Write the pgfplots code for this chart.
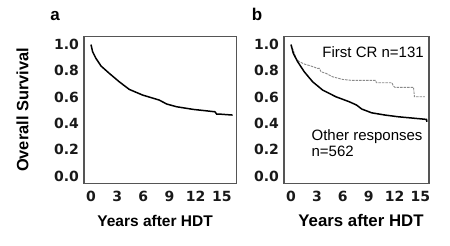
\documentclass[border=0pt]{standalone}
\usepackage{fontspec}
\setmainfont{Liberation Sans}
\newfontfamily\dejab{DejaVu Sans}[BoldFont={DejaVu Sans Bold}]
\usepackage{pgfplots}
\pgfplotsset{compat=1.18}
\definecolor{framegray}{HTML}{555555}
\definecolor{crgray}{HTML}{8A8A8A}
\pgfplotsset{
  km/.style={
    scale only axis,
    height=146.6pt,
    ymin=-0.055, ymax=1.06,
    xtick={0,3,6,9,12,15},
    ytick={0,0.2,0.4,0.6,0.8,1.0},
    major tick length=0pt,
    axis line style={draw=framegray, line width=1.1pt},
    /pgf/number format/assume math mode=true,
    ticklabel style={font=\dejab\bfseries\fontsize{14}{15}\selectfont, text=black!90},
    yticklabel style={/pgf/number format/.cd, fixed, fixed zerofill, precision=1, /tikz/.cd, xshift=-1.5pt},
    xticklabel style={yshift=-4pt},
    label style={font=\bfseries\fontsize{16}{18}\selectfont},
  }
}
\begin{document}
\begin{tikzpicture}[x=1pt,y=1pt]
\path[use as bounding box] (0,0) rectangle (450,246);
% panel a
\begin{axis}[km,
  at={(84pt,62.7pt)}, anchor=south west,
  width=152.5pt,
  xmin=-0.80, xmax=16.67,
  ylabel={Overall Survival},
  ylabel style={at={(axis description cs:-0.403,0.5)}, anchor=center, rotate=0, font=\bfseries\fontsize{16.4}{18}\selectfont},
  xlabel={Years after HDT},
  xlabel style={at={(axis description cs:0.466,-0.298)}, anchor=base, font=\bfseries\fontsize{15.5}{18}\selectfont},
  title={a},
  title style={at={(axis description cs:-0.19,1.068)}, anchor=base, font=\bfseries\fontsize{17}{18}\selectfont},
]
\addplot[black, line width=1.5pt] coordinates {
(0,1.0) (0.19,0.945) (0.57,0.895) (1.15,0.837) (2.1,0.781) (3.24,0.717)
(4.39,0.659) (5.92,0.616) (7.82,0.578) (8.67,0.548) (9.82,0.527)
(11.72,0.507) (14.2,0.489) (14.4,0.471) (14.78,0.471) (16.23,0.464)
};
\end{axis}
% panel b
\begin{axis}[km,
  at={(284pt,62.7pt)}, anchor=south west,
  width=145pt,
  xmin=-0.81, xmax=15.99,
  xlabel={Years after HDT},
  xlabel style={at={(axis description cs:0.531,-0.292)}, anchor=base, font=\bfseries\fontsize{16.8}{18}\selectfont},
  title={b},
  title style={at={(axis description cs:-0.186,1.068)}, anchor=base, font=\bfseries\fontsize{17}{18}\selectfont},
]
\addplot[crgray, line width=0.9pt, dash pattern=on 2.5pt off 1pt] coordinates {
(0,1.0) (0.3,0.95) (0.58,0.895) (0.96,0.87) (1.54,0.852) (2.32,0.837)
(3.09,0.819) (3.3,0.819) (3.48,0.793) (4.06,0.781) (4.83,0.755) (5.99,0.735)
(7.0,0.728) (9.8,0.728) (9.9,0.71) (11.7,0.71) (11.86,0.684) (12.05,0.675)
(14.2,0.675) (14.3,0.603) (15.5,0.603)
};
\addplot[black, line width=1.5pt] coordinates {
(0,1.0) (0.27,0.933) (0.77,0.87) (1.54,0.793) (2.51,0.717) (3.67,0.654)
(5.21,0.603) (6.76,0.565) (7.6,0.540) (8.19,0.510) (9.35,0.481)
(10.9,0.464) (12.43,0.451) (14.4,0.439) (15.7,0.431) (15.75,0.413)
};
\node[anchor=base west, font=\fontsize{15}{18}\selectfont] at (axis description cs:0.241,0.858) {First CR n=131};
\node[anchor=base west, font=\fontsize{15}{18}\selectfont] at (axis description cs:0.166,0.295) {Other responses};
\node[anchor=base west, font=\fontsize{15}{18}\selectfont] at (axis description cs:0.166,0.181) {n=562};
\end{axis}
\end{tikzpicture}
\end{document}
